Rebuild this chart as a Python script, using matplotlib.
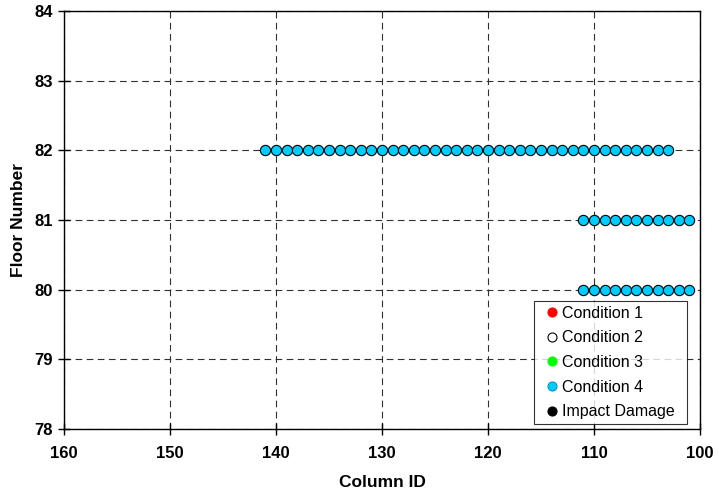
import matplotlib
matplotlib.use("Agg")
import matplotlib.pyplot as plt

# Columns observed per floor (Condition 4)
floor_82_cols = [141, 140, 139, 138, 137, 136, 135, 134, 133, 132, 131, 130, 129,
                 128, 127, 126, 125, 124, 123, 122, 121, 120, 119, 118, 117, 116,
                 115, 114, 113, 112, 111, 110, 109, 108, 107, 106, 105, 104, 103]
floor_81_cols = [111, 110, 109, 108, 107, 106, 105, 104, 103, 102, 101]
floor_80_cols = [111, 110, 109, 108, 107, 106, 105, 104, 103, 102, 101]

legend_labels = ["Condition 1", "Condition 2", "Condition 3", "Condition 4", "Impact Damage"]
legend_colors = ["#FF0000", "#FFFFFF", "#00FF00", "#00CCFF", "#000000"]

plt.rcParams["font.family"] = ["Liberation Sans", "DejaVu Sans"]

fig = plt.figure(figsize=(7.19, 4.92), dpi=100)
ax = fig.add_axes([64 / 719, 1 - 429 / 492, 636 / 719, 418 / 492])

# Empty series so every condition shows in the legend
for label, color in zip(legend_labels, legend_colors):
    if label == "Condition 4":
        continue
    edge = "black" if label == "Condition 2" else color
    ax.plot([], [], linestyle="none", marker="o", markersize=6.5,
            markerfacecolor=color, markeredgecolor=edge,
            markeredgewidth=0.8, label=label)

ax.plot(floor_82_cols, [82] * len(floor_82_cols), linestyle="none", marker="o",
        markersize=7.4, markerfacecolor="#00CCFF", markeredgecolor="black",
        markeredgewidth=0.8, label="Condition 4", zorder=3)
ax.plot(floor_81_cols, [81] * len(floor_81_cols), linestyle="none", marker="o",
        markersize=7.4, markerfacecolor="#00CCFF", markeredgecolor="black",
        markeredgewidth=0.8, zorder=3)
ax.plot(floor_80_cols, [80] * len(floor_80_cols), linestyle="none", marker="o",
        markersize=7.4, markerfacecolor="#00CCFF", markeredgecolor="black",
        markeredgewidth=0.8, zorder=3)

ax.set_xlim(160, 100)
ax.set_ylim(78, 84)
ax.set_xticks([160, 150, 140, 130, 120, 110, 100])
ax.set_yticks([78, 79, 80, 81, 82, 83, 84])
ax.grid(True, color="#303030", linestyle=(0, (6, 4)), linewidth=0.8)
ax.tick_params(direction="inout", length=8, width=1, labelsize=12)
ax.tick_params(axis="x", pad=8)
ax.tick_params(axis="y", pad=4)
for lab in ax.get_xticklabels() + ax.get_yticklabels():
    lab.set_fontweight("bold")
for sp in ax.spines.values():
    sp.set_linewidth(1.0)

ax.set_xlabel("Column ID", fontsize=12.5, fontweight="bold", labelpad=10)
ax.set_ylabel("Floor Number", fontsize=12.5, fontweight="bold", labelpad=6)

# reorder legend so it follows the condition order
handles, labels = ax.get_legend_handles_labels()
order = [labels.index(l) for l in legend_labels]
leg = ax.legend([handles[i] for i in order], [labels[i] for i in order],
                loc="lower left", bbox_to_anchor=(0.739, 0.012, 0.2406, 0.3),
                mode="expand", fontsize=11.5,
                frameon=True, fancybox=False, edgecolor="black",
                handlelength=1.6, handletextpad=-0.15, borderpad=0.3,
                labelspacing=0.6, borderaxespad=0)
leg.get_frame().set_linewidth(0.8)
# legend marker for Condition 4 drawn without the black outline
for h in leg.legend_handles:
    if h.get_label() == "Condition 4":
        h.set_markeredgecolor("#0099CC")
        h.set_markersize(6.5)

fig.savefig("out.png", dpi=100)
